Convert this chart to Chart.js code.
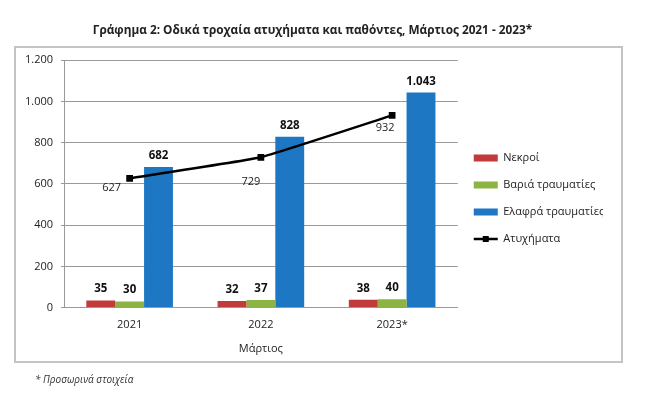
<!DOCTYPE html>
<html>
<head>
<meta charset="utf-8">
<script src="https://cdn.jsdelivr.net/npm/chart.js@4"></script>
<style>
  html, body { margin: 0; background: #fff; }
</style>
</head>
<body>
<canvas id="chart" width="661" height="399"></canvas>
<script>
// data
const years = ['2021', '2022', '2023*'];
const killed = [35, 32, 38];
const seriouslyInjured = [30, 37, 40];
const slightlyInjured = [682, 828, 1043];
const accidents = [627, 729, 932];
const yTicks = [0, 200, 400, 600, 800, 1000, 1200];

const FONT = 'Open Sans';
const fmt = n => String(n).replace(/\B(?=(\d{3})+(?!\d))/g, '.');

// frame round the chart and the footnote under it
const framePlugin = {
  id: 'frame',
  beforeDraw(chart) {
    const ctx = chart.ctx;
    ctx.save();
    ctx.fillStyle = '#fff';
    ctx.fillRect(0, 0, chart.width, chart.height);
    ctx.strokeStyle = '#c4c4c4';
    ctx.lineWidth = 2;
    ctx.strokeRect(15, 47, 607, 315);
    ctx.restore();
  },
  afterDraw(chart) {
    const ctx = chart.ctx;
    ctx.save();
    ctx.fillStyle = '#333';
    ctx.font = 'italic 10px "' + FONT + '"';
    ctx.textBaseline = 'middle';
    ctx.fillText('* Προσωρινά στοιχεία', 35, 380);

    // small square on the line legend item
    const boxes = chart.legend.legendHitBoxes;
    const items = chart.legend.legendItems;
    items.forEach((it, i) => {
      if (it.datasetIndex !== 3) return;
      const b = boxes[i];
      ctx.fillStyle = '#000';
      ctx.fillRect(b.left + 12 - 3, b.top + b.height / 2 - 3, 6, 6);
    });
    ctx.restore();
  }
};

// value labels
const labelPlugin = {
  id: 'valueLabels',
  afterDatasetsDraw(chart, args, opts) {
    const ctx = chart.ctx;
    ctx.save();
    ctx.textAlign = 'center';
    chart.data.datasets.forEach((ds, di) => {
      const meta = chart.getDatasetMeta(di);
      meta.data.forEach((el, i) => {
        const v = ds.data[i];
        if (ds.type === 'line') {
          const off = opts.lineOffsets[i];
          ctx.font = '11px "' + FONT + '"';
          ctx.fillStyle = '#222';
          ctx.textBaseline = 'middle';
          ctx.fillText(fmt(v), el.x + off[0], el.y + off[1]);
        } else {
          ctx.font = 'bold 11.5px "' + FONT + '"';
          ctx.fillStyle = '#111';
          ctx.textBaseline = 'alphabetic';
          ctx.fillText(fmt(v), el.x, el.y - 8);
        }
      });
    });
    ctx.restore();
  }
};

new Chart(document.getElementById('chart'), {
  type: 'bar',
  data: {
    labels: years,
    datasets: [
      { label: 'Νεκροί', data: killed, backgroundColor: '#c23b3b', order: 1,
        categoryPercentage: 0.66, barPercentage: 1 },
      { label: 'Βαριά τραυματίες', data: seriouslyInjured, backgroundColor: '#8db443', order: 1,
        categoryPercentage: 0.66, barPercentage: 1 },
      { label: 'Ελαφρά τραυματίες', data: slightlyInjured, backgroundColor: '#1d77c2', order: 1,
        categoryPercentage: 0.66, barPercentage: 1 },
      { type: 'line', label: 'Ατυχήματα', data: accidents, order: 0,
        borderColor: '#000', backgroundColor: '#000', borderWidth: 2.5,
        pointStyle: 'rect', pointRadius: 3, pointBackgroundColor: '#000', tension: 0.1 }
    ]
  },
  options: {
    responsive: false,
    animation: false,
    layout: { padding: { left: 22, right: 58, top: 0, bottom: 40 } },
    plugins: {
      title: {
        display: true,
        text: 'Γράφημα 2: Οδικά τροχαία ατυχήματα και παθόντες, Μάρτιος 2021 - 2023*',
        font: { family: FONT, size: 11.8, weight: 'bold' },
        color: '#222',
        padding: { top: 24, bottom: 22 }
      },
      legend: {
        position: 'right',
        align: 'center',
        title: { display: true, text: ' ', font: { size: 10 }, padding: { top: 26, bottom: 0 } },
        labels: {
          font: { family: FONT, size: 11 },
          color: '#222',
          usePointStyle: true,
          pointStyleWidth: 24,
          boxWidth: 24,
          boxHeight: 7,
          padding: 16,
          sort: (a, b) => a.datasetIndex - b.datasetIndex,
          generateLabels(chart) {
            const items = Chart.defaults.plugins.legend.labels.generateLabels(chart);
            items.forEach(it => { it.pointStyle = it.datasetIndex === 3 ? 'line' : 'rect'; });
            return items;
          }
        }
      },
      tooltip: { enabled: false },
      valueLabels: { lineOffsets: [[-18, 10], [-10, 25], [-7, 12]] }
    },
    scales: {
      x: {
        grid: { display: false },
        border: { display: true, color: '#999' },
        ticks: { font: { family: FONT, size: 11 }, color: '#222', padding: 3 },
        title: { display: true, text: 'Μάρτιος', font: { family: FONT, size: 11 }, color: '#222', padding: { top: 7 } }
      },
      y: {
        min: 0,
        max: 1200,
        afterBuildTicks: s => { s.ticks = yTicks.map(v => ({ value: v })); },
        afterFit: s => { s.width = 42; },
        grid: { color: '#999', tickLength: 3 },
        border: { display: true, color: '#999' },
        ticks: { font: { family: FONT, size: 11 }, color: '#222', padding: 8, callback: v => fmt(v) }
      }
    }
  },
  plugins: [framePlugin, labelPlugin]
});
</script>
</body>
</html>
